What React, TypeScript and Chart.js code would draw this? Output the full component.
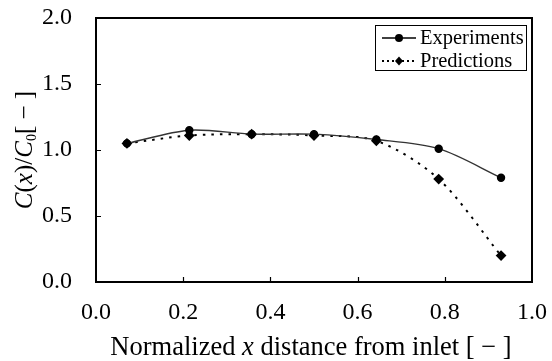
import React, { useEffect, useRef } from "react";
import { Chart, registerables } from "chart.js";

Chart.register(...registerables);

const xPositions = [0.071, 0.214, 0.357, 0.5, 0.643, 0.786, 0.929];
const experiments = [1.05, 1.15, 1.12, 1.12, 1.08, 1.01, 0.79];
const predictions = [1.05, 1.11, 1.12, 1.11, 1.07, 0.78, 0.2];
const seriesNames = ["Experiments", "Predictions"];
const xTitleParts = [
  { t: "Normalized ", i: false },
  { t: "x", i: true },
  { t: " distance from inlet ", i: false },
  { t: "[ − ]", i: false },
];

const SERIF = "'Liberation Serif', 'Times New Roman', serif";

const framePlugin = {
  id: "frameAndExtras",
  afterDraw(chart: any) {
    const { ctx, chartArea } = chart;
    const { left, right, top, bottom } = chartArea;
    const xs = chart.scales.x;
    const ys = chart.scales.y;
    ctx.save();
    // frame
    ctx.strokeStyle = "#000";
    ctx.lineWidth = 2;
    ctx.setLineDash([]);
    ctx.strokeRect(left, top, right - left, bottom - top);
    // inward ticks
    ctx.lineWidth = 1.2;
    ctx.beginPath();
    xs.ticks.forEach((t: any) => {
      if (t.value <= 0 || t.value >= 1) return;
      const px = Math.round(xs.getPixelForValue(t.value)) + 0.5;
      ctx.moveTo(px, bottom);
      ctx.lineTo(px, bottom - 5);
    });
    ys.ticks.forEach((t: any) => {
      if (t.value <= 0 || t.value >= 2) return;
      const py = Math.round(ys.getPixelForValue(t.value)) + 0.5;
      ctx.moveTo(left, py);
      ctx.lineTo(left + 5, py);
    });
    ctx.stroke();

    // legend
    const bx = right - 157;
    const by = top + 7;
    const bw = 151;
    const bh = 45;
    ctx.fillStyle = "#fff";
    ctx.fillRect(bx, by, bw, bh);
    ctx.lineWidth = 1;
    ctx.strokeStyle = "#000";
    ctx.strokeRect(bx + 0.5, by + 0.5, bw, bh);
    chart.data.datasets.forEach((ds: any, i: number) => {
      const cy = by + 13 + i * 23;
      const x0 = bx + 7;
      const x1 = bx + 41;
      ctx.beginPath();
      ctx.lineWidth = i === 0 ? 1.5 : 1.8;
      ctx.strokeStyle = "#000";
      ctx.setLineDash(i === 0 ? [] : [2, 3]);
      ctx.moveTo(x0, cy);
      ctx.lineTo(x1, cy);
      ctx.stroke();
      ctx.setLineDash([]);
      ctx.fillStyle = "#000";
      const mx = (x0 + x1) / 2;
      ctx.beginPath();
      if (i === 0) {
        ctx.arc(mx, cy, 4, 0, Math.PI * 2);
      } else {
        ctx.moveTo(mx, cy - 4.5);
        ctx.lineTo(mx + 4, cy);
        ctx.lineTo(mx, cy + 4.5);
        ctx.lineTo(mx - 4, cy);
        ctx.closePath();
      }
      ctx.fill();
      ctx.font = `20.5px ${SERIF}`;
      ctx.textBaseline = "middle";
      ctx.textAlign = "left";
      ctx.fillText(ds.label, x1 + 4, cy + 1);
    });

    // x title
    ctx.fillStyle = "#000";
    ctx.textBaseline = "alphabetic";
    ctx.textAlign = "left";
    const fx = (it: boolean) => `${it ? "italic " : ""}26.5px ${SERIF}`;
    let total = 0;
    xTitleParts.forEach((p) => {
      ctx.font = fx(p.i);
      total += ctx.measureText(p.t).width;
    });
    let cx = 311 - total / 2;
    xTitleParts.forEach((p) => {
      ctx.font = fx(p.i);
      ctx.fillText(p.t, cx, 355);
      cx += ctx.measureText(p.t).width;
    });

    // y title
    const yParts = [
      { t: "C", f: `italic 25px ${SERIF}`, dy: 0 },
      { t: "(", f: `25px ${SERIF}`, dy: 0 },
      { t: "x", f: `italic 25px ${SERIF}`, dy: 0 },
      { t: ")", f: `25px ${SERIF}`, dy: 0 },
      { t: "/", f: `25px ${SERIF}`, dy: 0 },
      { t: "C", f: `italic 25px ${SERIF}`, dy: 0 },
      { t: "0", f: `14px ${SERIF}`, dy: 4 },
      { t: "[ − ]", f: `25px ${SERIF}`, dy: 0 },
    ];
    ctx.save();
    ctx.translate(32, (top + bottom) / 2);
    ctx.rotate(-Math.PI / 2);
    let tw = 0;
    yParts.forEach((p) => {
      ctx.font = p.f;
      tw += ctx.measureText(p.t).width;
    });
    let yx = -tw / 2;
    yParts.forEach((p) => {
      ctx.font = p.f;
      ctx.fillText(p.t, yx, p.dy);
      yx += ctx.measureText(p.t).width;
    });
    ctx.restore();
    ctx.restore();
  },
};

export default function App() {
  const ref = useRef<HTMLCanvasElement>(null);
  useEffect(() => {
    if (!ref.current) return;
    const chart = new Chart(ref.current, {
      type: "line",
      data: {
        datasets: [
          {
            label: seriesNames[0],
            data: xPositions.map((x, i) => ({ x, y: experiments[i] })),
            borderColor: "#333",
            borderWidth: 1.4,
            pointBackgroundColor: "#000",
            pointBorderColor: "#000",
            pointRadius: 3.5,
            pointStyle: "circle",
            tension: 0.3,
          },
          {
            label: seriesNames[1],
            data: xPositions.map((x, i) => ({ x, y: predictions[i] })),
            borderColor: "#000",
            borderWidth: 2,
            borderDash: [2.5, 6],
            pointBackgroundColor: "#000",
            pointBorderColor: "#000",
            pointRadius: 4,
            pointStyle: "rectRot",
            tension: 0.3,
          },
        ],
      },
      options: {
        animation: false,
        responsive: false,
        maintainAspectRatio: false,
        layout: { padding: { top: 18, right: 20, left: 0, bottom: 0 } },
        plugins: {
          legend: { display: false },
          tooltip: { enabled: false },
        },
        scales: {
          x: {
            type: "linear",
            min: 0,
            max: 1,
            grid: { display: false },
            border: { display: false },
            ticks: {
              stepSize: 0.2,
              color: "#000",
              padding: 8,
              maxRotation: 0,
              font: { family: SERIF, size: 24 },
              callback: (v: any) => Number(v).toFixed(1),
            },
            afterFit: (s: any) => {
              s.height = 79;
              s.paddingLeft = 0;
              s.paddingRight = 0;
            },
          },
          y: {
            type: "linear",
            min: 0,
            max: 2,
            grid: { display: false },
            border: { display: false },
            ticks: {
              stepSize: 0.5,
              color: "#000",
              padding: 16,
              font: { family: SERIF, size: 24 },
              callback: (v: any) => Number(v).toFixed(1),
            },
            afterFit: (s: any) => {
              s.width = 96;
              s.paddingTop = 0;
              s.paddingBottom = 0;
            },
          },
        },
      },
      plugins: [framePlugin],
    });
    return () => chart.destroy();
  }, []);
  return (
    <div style={{ position: "fixed", left: 0, top: 0, width: 552, height: 361, background: "#fff" }}>
      <canvas ref={ref} width={552} height={361} style={{ display: "block" }} />
    </div>
  );
}
